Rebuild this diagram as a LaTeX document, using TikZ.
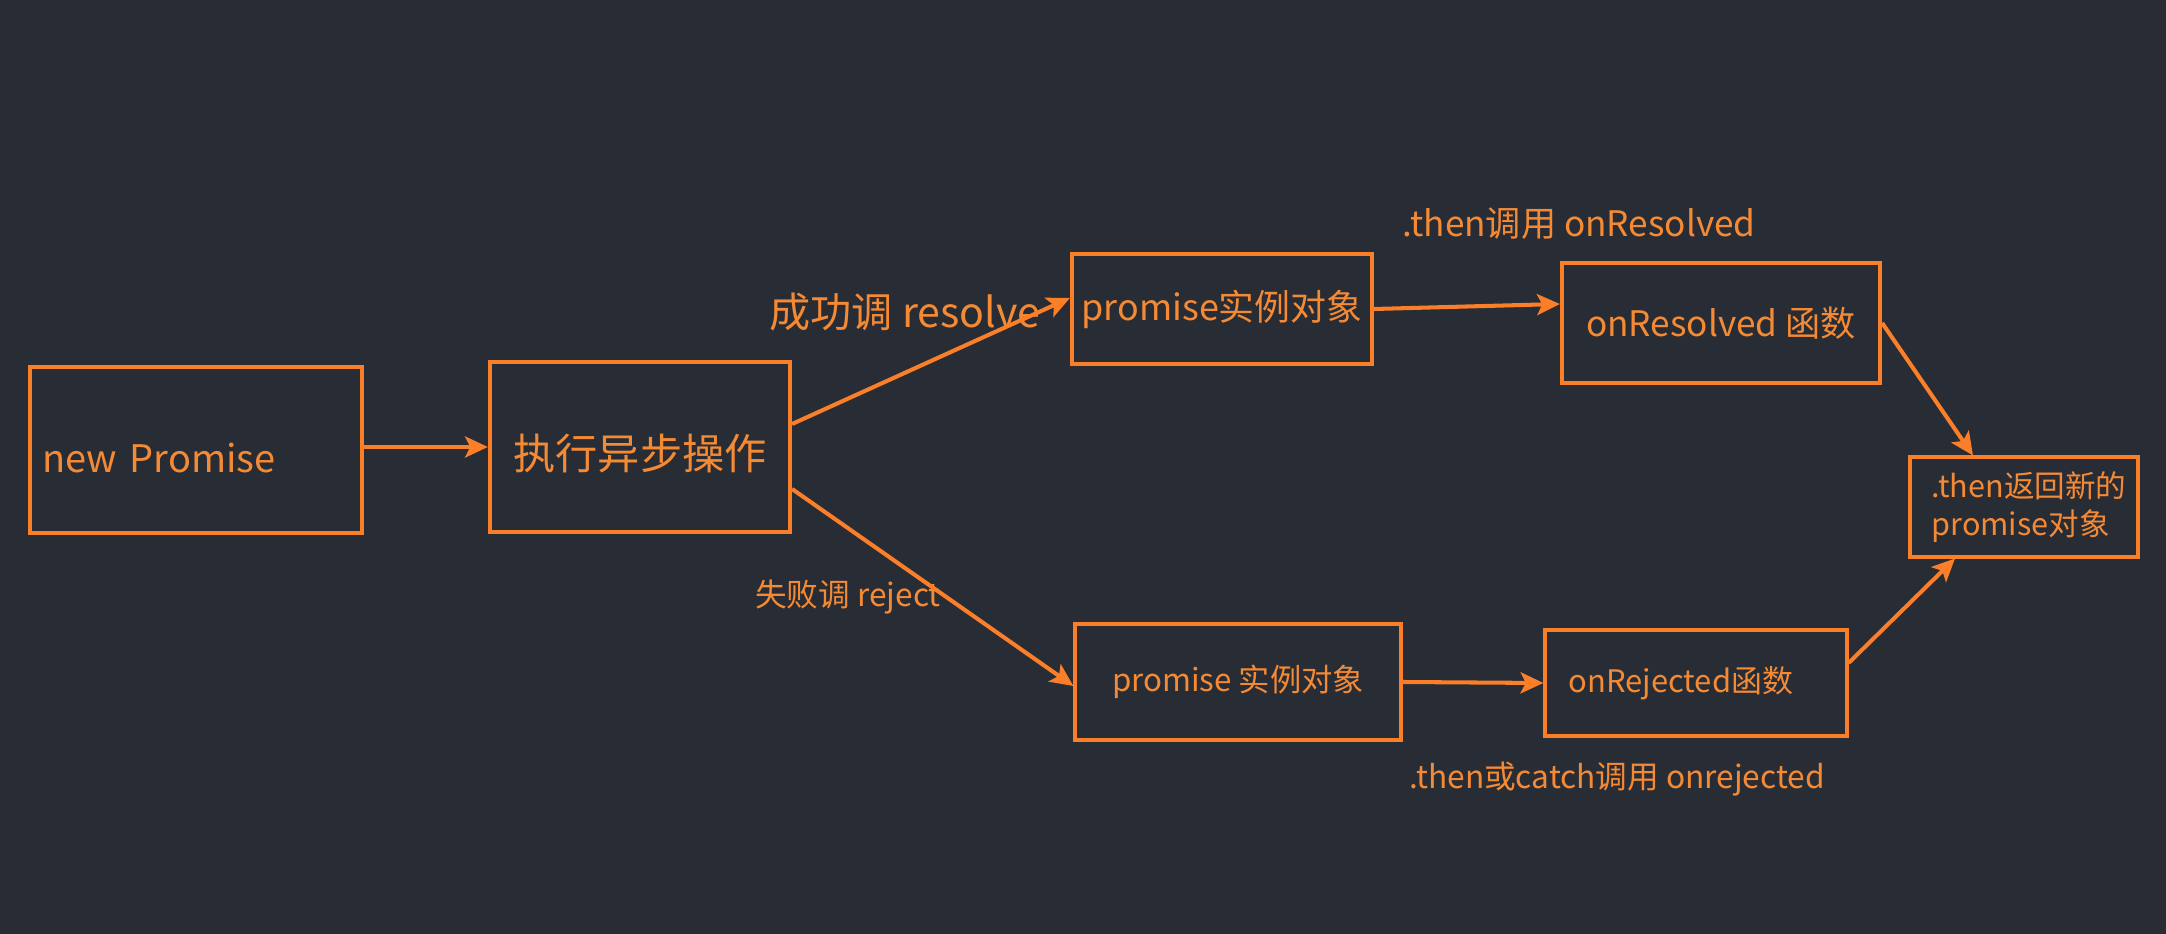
\documentclass[tikz,border=0pt]{standalone}
\usepackage{fontspec}
\setmainfont{Noto Sans CJK SC}
\usepackage{tikz}
\usetikzlibrary{arrows.meta, positioning}
\definecolor{bgdark}{HTML}{282C35}
\definecolor{lineorange}{HTML}{FB7F28}
\definecolor{textorange}{HTML}{F58A35}

\begin{document}
\begin{tikzpicture}[
  x=0.01cm, y=-0.01cm,
  box/.style={draw=lineorange, line width=1.15pt, inner sep=0pt, text=textorange, align=center},
  note/.style={text=textorange, inner sep=0pt},
  arrow/.style={-{Stealth[length=6.5pt, width=6pt, inset=1.5pt]}, line width=1.15pt, lineorange}
]

% Background
\fill[bgdark] (0,0) rectangle (2166,934);

% Start
\node[box, minimum width=3.31cm, minimum height=1.66cm, text width=3.07cm, text height=13pt, align=left, font=\fontsize{10.8}{13}\selectfont] (newp) at (196,450) {new Promise};
\node[box, minimum width=3.00cm, minimum height=1.70cm, text height=14pt, font=\fontsize{12}{14}\selectfont] (exec) at (640,447) {执行异步操作};

% Resolved branch
\node[box, minimum width=3.00cm, minimum height=1.10cm, font=\fontsize{10.2}{12}\selectfont] (succ) at (1222,309) {promise实例对象};
\node[box, minimum width=3.18cm, minimum height=1.19cm, font=\fontsize{10}{12}\selectfont] (onres) at (1721,323) {onResolved 函数};

% Rejected branch
\node[box, minimum width=3.25cm, minimum height=1.16cm, font=\fontsize{8.9}{11}\selectfont] (fail) at (1238,682) {promise 实例对象};
\node[box, minimum width=3.01cm, minimum height=1.06cm, text width=2.55cm, align=left, font=\fontsize{8.8}{11}\selectfont] (onrej) at (1696,683) {onRejected函数};

% Result
\node[box, minimum width=2.27cm, minimum height=0.99cm, text width=1.85cm, align=left, font=\fontsize{8.7}{10.8}\selectfont] (newobj) at (2024,507) {.then返回新的\\promise对象};

% Labels
\node[note, font=\fontsize{11.7}{14}\selectfont] (resolvelbl) at (905,312) {成功调 resolve};
\node[note, font=\fontsize{10}{12}\selectfont] (thenlbl) at (1579,224) {.then调用 onResolved};
\node[note, font=\fontsize{9}{11}\selectfont] (rejectlbl) at (848,597) {失败调 reject};
\node[note, font=\fontsize{9}{11}\selectfont] (catchlbl) at (1617,779) {.then或catch调用 onrejected};

% Arrows
\draw[arrow] (newp.east |- exec.west) -- (exec.west);
\draw[arrow] ([yshift=0.23cm]exec.east) -- ([yshift=0.11cm]succ.west);
\draw[arrow] ([yshift=-0.42cm]exec.east) -- ([yshift=-0.04cm]fail.west);
\draw[arrow] (succ.east) -- ([yshift=0.19cm]onres.west);
\draw[arrow] (fail.east) -- (onrej.west);
\draw[arrow] (onres.east) -- ([xshift=-0.51cm]newobj.north);
\draw[arrow] ([yshift=0.2cm]onrej.east) -- ([xshift=-0.69cm]newobj.south);

\end{tikzpicture}
\end{document}
